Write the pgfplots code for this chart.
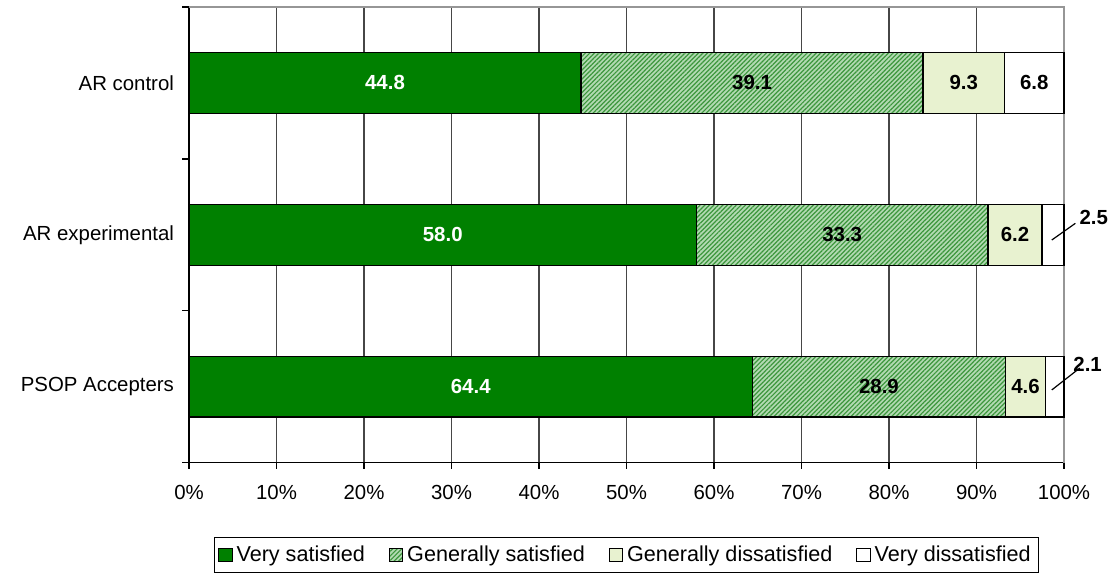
\documentclass[border=0pt]{standalone}
\usepackage{pgfplots}
\pgfplotsset{compat=1.18}
\usepackage{fontspec}
\setmainfont{Liberation Sans}
\usetikzlibrary{patterns.meta}

\definecolor{vsat}{RGB}{0,128,0}
\definecolor{gsat}{RGB}{178,218,178}
\definecolor{gsatline}{RGB}{60,150,60}
\definecolor{gdis}{RGB}{232,242,208}
\definecolor{gridc}{RGB}{70,70,70}
\definecolor{framec}{RGB}{150,150,150}

\begin{document}
\begin{tikzpicture}[font=\fontsize{10.2}{12}\selectfont]
\begin{axis}[
  name=ax,
  scale only axis,
  width=437.5pt, height=227.85pt,
  xbar stacked,
  bar width=0.4,
  xmin=0, xmax=100,
  ymin=-0.5, ymax=2.5,
  clip=false,
  axis lines=left,
  axis line style={-, black, line width=0.6pt},
  xtick={0,10,...,100},
  xticklabels={0\%,10\%,20\%,30\%,40\%,50\%,60\%,70\%,80\%,90\%,100\%},
  ytick={0,1,2},
  yticklabels={PSOP Accepters, AR experimental, AR control},
  minor ytick={-0.5,0.5,1.5,2.5},
  tick align=outside,
  major tick length=3pt,
  minor tick length=3.5pt,
  tick style={black, line width=0.6pt},
  major y tick style={draw=none},
  xmajorgrids,
  major x grid style={gridc, line width=0.6pt},
  yticklabel style={xshift=-1pt},
  xticklabel style={yshift=-4.5pt},
  point meta=explicit symbolic,
  nodes near coords,
  every node near coord/.append style={font=\fontsize{10.2}{12}\selectfont\bfseries},
  legend style={at={(0.5,-0.163)}, anchor=north, legend columns=4,
    draw=black, line width=0.6pt, inner sep=2pt,
    font=\fontsize{10.8}{13}\selectfont,
    /tikz/every even column/.append style={column sep=10pt}},
  legend image code/.code={\draw[#1, draw=black, line width=0.5pt] (0pt,-3.3pt) rectangle (6.6pt,3.3pt);},
]
\addplot[fill=vsat, draw=black, line width=0.7pt,
  every node near coord/.append style={text=white}]
  coordinates {(64.4,0) [64.4] (58.0,1) [58.0] (44.8,2) [44.8]};
\addlegendentry{Very satisfied}
\addplot[fill=gsat, draw=black, line width=0.7pt,
  postaction={pattern={Lines[angle=45,distance=1.6pt,line width=0.6pt]}, pattern color=gsatline}]
  coordinates {(28.9,0) [28.9] (33.3,1) [33.3] (39.1,2) [39.1]};
\addlegendentry{Generally satisfied}
\addplot[fill=gdis, draw=black, line width=0.7pt]
  coordinates {(4.6,0) [4.6] (6.2,1) [6.2] (9.3,2) [9.3]};
\addlegendentry{Generally dissatisfied}
\addplot[fill=white, draw=black, line width=0.7pt]
  coordinates {(2.1,0) [] (2.5,1) [] (6.8,2) [6.8]};
\addlegendentry{Very dissatisfied}

% plot-area border on the top and right
\draw[framec, line width=0.8pt] (rel axis cs:0,1) -- (rel axis cs:1,1) -- (rel axis cs:1,0);

% values of the thin end segments, set outside with leader lines
\coordinate (l1a) at (axis cs:98.6,0.966);
\coordinate (l1b) at (axis cs:101.3,1.076);
\coordinate (l2a) at (axis cs:98.6,-0.021);
\coordinate (l2b) at (axis cs:101.8,0.123);
\node[font=\fontsize{10.2}{12}\selectfont\bfseries] at (axis cs:103.4,1.117) {2.5};
\node[font=\fontsize{10.2}{12}\selectfont\bfseries] at (axis cs:102.7,0.150) {2.1};
\end{axis}
\draw[black, line width=0.6pt] (l1a) -- (l1b);
\draw[black, line width=0.6pt] (l2a) -- (l2b);
\pgfresetboundingbox
\path (ax.south west) ++(-94.5pt,-56.15pt) rectangle ++(555.5pt,287.5pt);
\end{tikzpicture}
\end{document}
